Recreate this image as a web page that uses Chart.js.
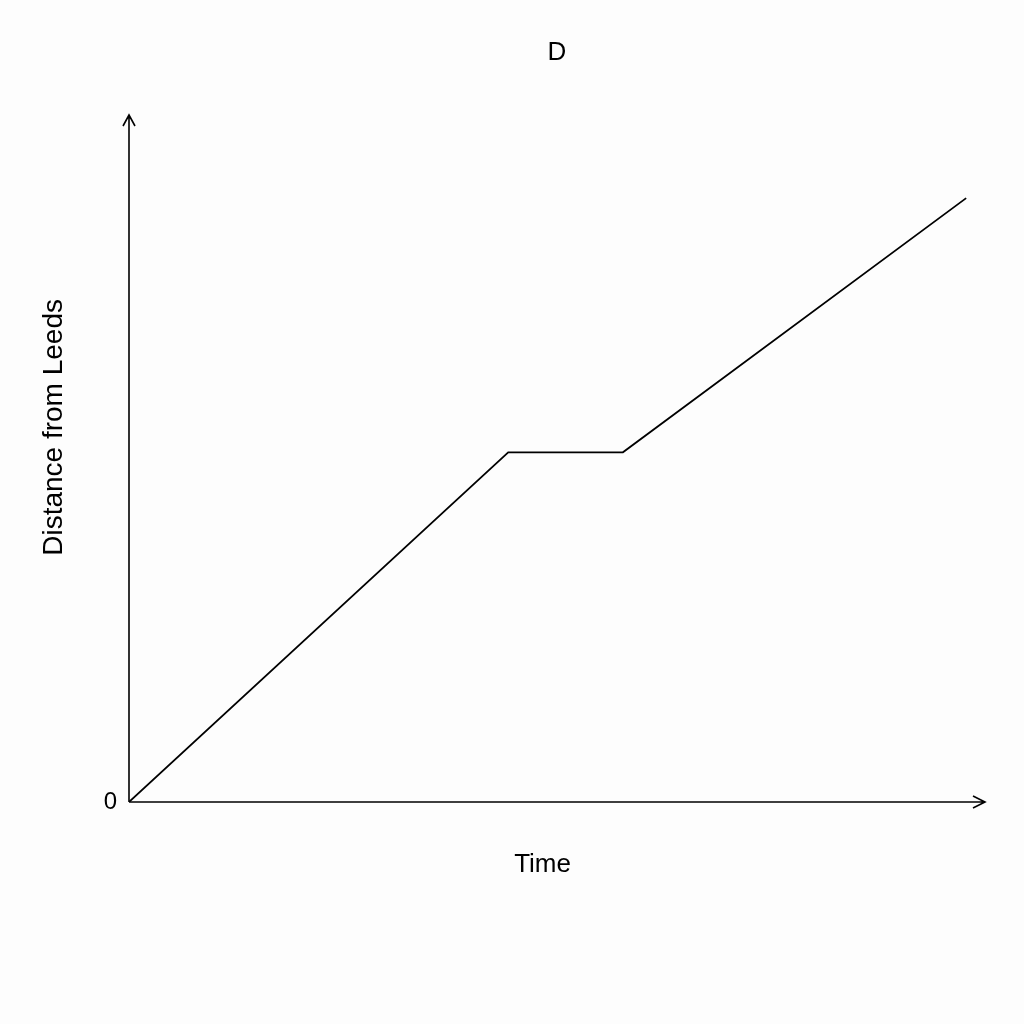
<!DOCTYPE html>
<html>
<head>
<meta charset="utf-8">
<script src="https://cdn.jsdelivr.net/npm/chart.js@4"></script>
<style>
  html, body { margin: 0; padding: 0; background: #fdfdfd; }
  #wrap { width: 1024px; height: 1024px; }
</style>
</head>
<body>
<div id="wrap"><canvas id="journeyChart"></canvas></div>
<script>
// journey D: time vs distance from Leeds (no units on the axes)
const times = [0, 4.43, 5.77, 9.78];
const distances = [0, 5.09, 5.09, 8.79];
const yTicks = [0];

const FONT = "'Liberation Sans', Arial, sans-serif";

// plain axes with arrow heads, drawn along the scales
const arrowAxes = {
    id: "arrowAxes",
    afterDraw(chart) {
        const ctx = chart.ctx;
        const x = chart.scales.x, y = chart.scales.y;
        const x0 = x.getPixelForValue(0), y0 = y.getPixelForValue(0);
        const xEnd = x.right, yEnd = y.top;
        ctx.save();
        ctx.strokeStyle = "#000";
        ctx.lineWidth = 1.6;
        ctx.beginPath();
        ctx.moveTo(x0, y0); ctx.lineTo(x0, yEnd);
        ctx.moveTo(x0 - 6, yEnd + 11); ctx.lineTo(x0, yEnd); ctx.lineTo(x0 + 6, yEnd + 11);
        ctx.moveTo(x0, y0); ctx.lineTo(xEnd, y0);
        ctx.moveTo(xEnd - 12, y0 - 6); ctx.lineTo(xEnd, y0); ctx.lineTo(xEnd - 12, y0 + 6);
        ctx.stroke();
        ctx.restore();
    }
};

new Chart(document.getElementById("journeyChart"), {
    type: "scatter",
    data: {
        datasets: [{
            data: times.map((t, i) => ({ x: t, y: distances[i] })),
            showLine: true,
            borderColor: "#000",
            borderWidth: 1.8,
            pointRadius: 0,
            fill: false,
            tension: 0
        }]
    },
    options: {
        responsive: true,
        maintainAspectRatio: false,
        animation: false,
        layout: { padding: { left: 33, right: 39, top: 37, bottom: 140 } },
        plugins: {
            legend: { display: false },
            tooltip: { enabled: false },
            title: {
                display: true,
                text: "D",
                fullSize: false,
                color: "#000",
                font: { family: FONT, size: 26, weight: "normal" },
                padding: { top: 0, bottom: 46.8 }
            }
        },
        scales: {
            x: {
                type: "linear",
                min: 0,
                max: 10,
                grid: { display: false, drawTicks: false },
                border: { display: false },
                ticks: { display: false },
                title: {
                    display: true,
                    // trailing spaces nudge the centred label a little left
                    text: "Time    ",
                    color: "#000",
                    font: { family: FONT, size: 26 }
                },
                afterFit(scale) { scale.height = 82; }
            },
            y: {
                type: "linear",
                min: 0,
                max: 10,
                grid: { display: false, drawTicks: false },
                border: { display: false },
                afterBuildTicks(scale) { scale.ticks = yTicks.map(v => ({ value: v })); },
                ticks: {
                    color: "#000",
                    padding: 12,
                    font: { family: FONT, size: 24 }
                },
                title: {
                    display: true,
                    // leading spaces nudge the rotated label up the axis
                    text: "        Distance from Leeds",
                    color: "#000",
                    font: { family: FONT, size: 28 }
                },
                afterFit(scale) {
                    scale.width = 96;
                    scale.paddingTop = 0;
                    scale.paddingBottom = 0;
                }
            }
        }
    },
    plugins: [arrowAxes]
});
</script>
</body>
</html>
